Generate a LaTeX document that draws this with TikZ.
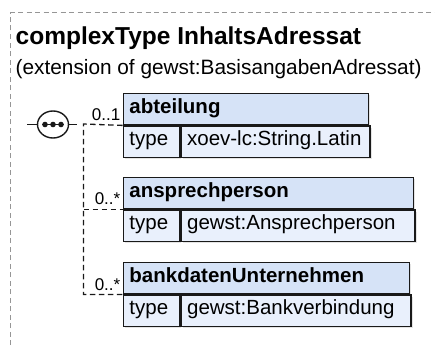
\documentclass[tikz,border=0pt]{standalone}
\usepackage{fontspec}
\setmainfont{Liberation Sans}
\usetikzlibrary{shapes.geometric,calc,shadows}
\definecolor{hdrfill}{RGB}{214,227,247}
\definecolor{typefill}{RGB}{233,240,252}
\definecolor{framegray}{RGB}{150,150,150}
\definecolor{boxline}{RGB}{25,25,25}
\begin{document}
\begin{tikzpicture}[x=1pt,y=-1pt,
  frame/.style={draw=framegray, line width=1pt, dash pattern=on 5pt off 3.5pt},
  boxshadow/.style={drop shadow={shadow xshift=1.4pt, shadow yshift=-1.4pt, fill=black!30, opacity=0.35}},
  hdr/.style={draw=boxline, line width=1.4pt, fill=hdrfill, anchor=north west, boxshadow,
    inner xsep=6pt, inner ysep=0pt, text height=20pt, text depth=11pt,
    font=\fontsize{20.5}{24}\selectfont\bfseries, align=left},
  typecell/.style={draw=boxline, line width=1.4pt, fill=typefill, anchor=north west, boxshadow,
    inner xsep=6pt, inner ysep=0pt, text height=19pt, text depth=12.5pt,
    font=\fontsize{20.5}{24}\selectfont, align=left},
  conn/.style={draw=boxline, line width=1.3pt, dash pattern=on 5.5pt off 3.5pt},
  stub/.style={draw=boxline, line width=1.3pt},
  lbl/.style={font=\fontsize{17}{20}\selectfont, inner sep=0pt, anchor=base east},
  seqsym/.style={ellipse, draw=boxline, line width=1.4pt, fill=white,
    minimum width=31pt, minimum height=27pt, inner sep=0pt}
]
\useasboundingbox (0,0) rectangle (435,345);
\draw[frame] (10,345) -- (10,13) -- (435,13);
\node[anchor=base west, inner sep=0pt, font=\fontsize{24.5}{29}\selectfont\bfseries] (title) at (15.5,45) {complexType InhaltsAdressat};
\node[anchor=base west, inner sep=0pt, font=\fontsize{20.8}{25}\selectfont] (sub) at (15.5,74) {(extension of gewst:BasisangabenAdressat)};

% boxes
\node[hdr, text width=233.3pt] (abt) at (122.7,93) {abteilung};
\node[typecell, text width=44.3pt] (abtT) at (abt.south west) {type};
\node[typecell, text width=177pt] (abtV) at (abtT.north east) {xoev-lc:String.Latin};

\node[hdr, text width=278.3pt] (ans) at (122.7,177) {ansprechperson};
\node[typecell, text width=44.3pt] (ansT) at (ans.south west) {type};
\node[typecell, text width=222pt] (ansV) at (ansT.north east) {gewst:Ansprechperson};

\node[hdr, text width=274.3pt] (bank) at (122.7,262) {bankdatenUnternehmen};
\node[typecell, text width=44.3pt] (bankT) at (bank.south west) {type};
\node[typecell, text width=218pt] (bankV) at (bankT.north east) {gewst:Bankverbindung};

% sequence symbol
\node[seqsym] (seq) at (53,124.5) {};
\draw[stub] ($(seq.center)+(-11,0)$) -- ($(seq.center)+(11,0)$);
\foreach \dx in {-8,0,8} \fill[boxline] ($(seq.center)+(\dx,0)$) circle (2.8pt);
\coordinate (inL) at (27,124.5);
\coordinate (outR) at (77,124.5);
\draw[stub] (inL) -- (seq.west);
\draw[stub] (seq.east) -- (outR);

% connectors
\coordinate (spine) at (83.5,124);
\draw[conn] (abt.south west) -- (spine) |- (bank.south west);
\draw[conn] (spine |- ans.south west) -- (ans.south west);

% labels
\node[lbl] (m1) at (120.5,120.5) {0..1};
\node[lbl] (m2) at (120.5,204.5) {0..*};
\node[lbl] (m3) at (120.5,290) {0..*};
\end{tikzpicture}
\end{document}
